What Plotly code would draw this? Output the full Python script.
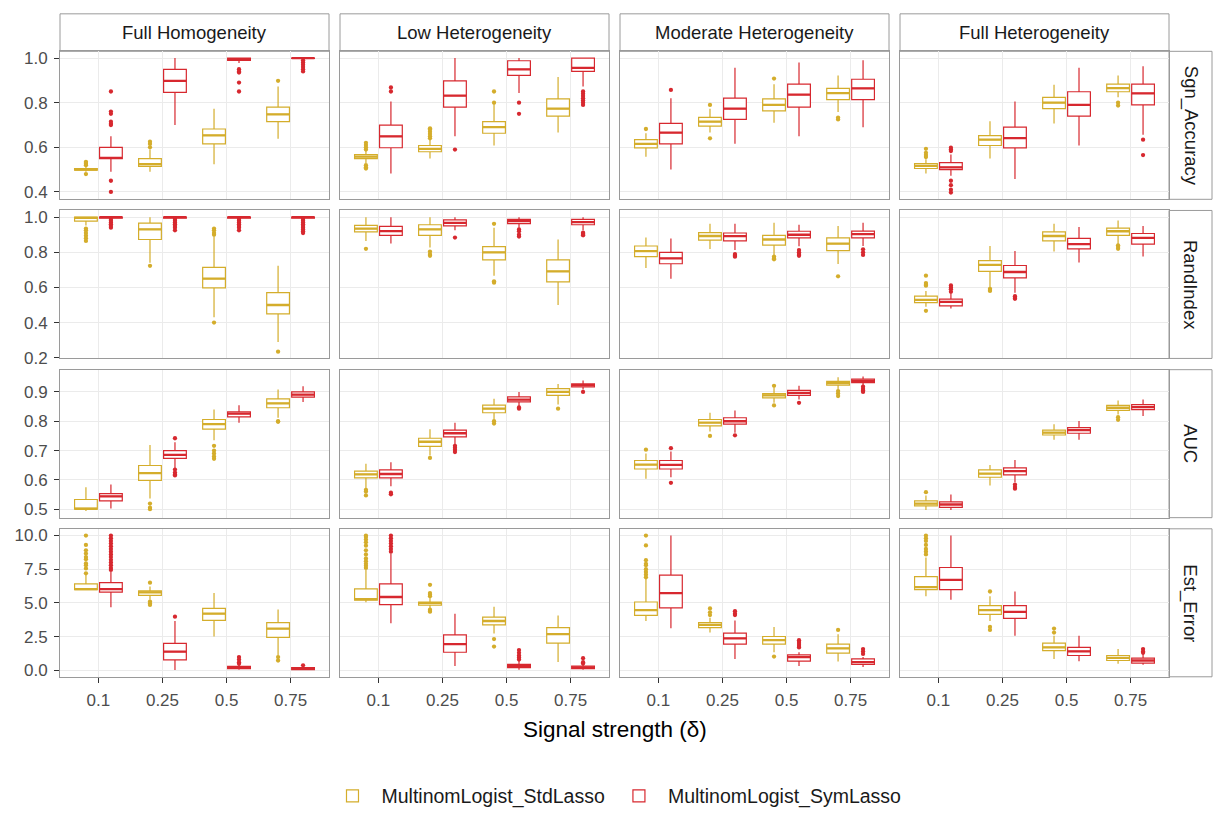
import plotly.graph_objects as go

# ---------------- data ----------------
deltas = ["0.1", "0.25", "0.5", "0.75"]
settings = ["Full Homogeneity", "Low Heterogeneity", "Moderate Heterogeneity", "Full Heterogeneity"]
metrics = ["Sgn_Accuracy", "RandIndex", "AUC", "Est_Error"]
methods = ["MultinomLogist_StdLasso", "MultinomLogist_SymLasso"]

# each array: rows = settings (4), columns = deltas (4)
# ---- Sgn_Accuracy ----
sgn_std_lo = [[0.49, 0.49, 0.524, 0.638], [0.53, 0.55, 0.608, 0.666], [0.558, 0.666, 0.71, 0.758], [0.483, 0.55, 0.707, 0.824]]
sgn_std_q1 = [[0.497, 0.514, 0.615, 0.715], [0.549, 0.58, 0.663, 0.74], [0.597, 0.695, 0.763, 0.814], [0.505, 0.608, 0.773, 0.849]]
sgn_std_med = [[0.50, 0.524, 0.653, 0.748], [0.558, 0.593, 0.69, 0.773], [0.615, 0.715, 0.79, 0.843], [0.517, 0.634, 0.80, 0.865]]
sgn_std_q3 = [[0.505, 0.549, 0.682, 0.78], [0.567, 0.608, 0.715, 0.817], [0.634, 0.734, 0.817, 0.864], [0.527, 0.652, 0.824, 0.883]]
sgn_std_hi = [[0.515, 0.59, 0.773, 0.873], [0.585, 0.634, 0.795, 0.915], [0.663, 0.773, 0.883, 0.922], [0.546, 0.717, 0.88, 0.922]]
sgn_std_out = [
    [[0.52, 0.525, 0.53, 0.535, 0.48], [0.60, 0.615, 0.625], [], [0.898]],
    [[0.59, 0.60, 0.61, 0.62, 0.52, 0.51, 0.505], [0.64, 0.65, 0.66, 0.67, 0.68, 0.685], [0.80, 0.85], []],
    [[0.682], [0.79, 0.64], [0.908], [0.733, 0.725]],
    [[0.556, 0.565, 0.575, 0.593], [], [], [0.80, 0.787]],
]
sgn_sym_lo = [[0.49, 0.70, 0.978, 0.995], [0.483, 0.649, 0.843, 0.873], [0.50, 0.616, 0.649, 0.69], [0.473, 0.458, 0.608, 0.656]]
sgn_sym_q1 = [[0.549, 0.846, 0.99, 0.998], [0.598, 0.78, 0.922, 0.94], [0.615, 0.725, 0.78, 0.814], [0.50, 0.597, 0.74, 0.79]]
sgn_sym_med = [[0.553, 0.898, 0.995, 1.0], [0.649, 0.832, 0.949, 0.956], [0.666, 0.773, 0.836, 0.864], [0.51, 0.641, 0.79, 0.842]]
sgn_sym_q3 = [[0.60, 0.949, 1.0, 1.0], [0.699, 0.898, 0.988, 1.0], [0.707, 0.82, 0.883, 0.905], [0.531, 0.69, 0.849, 0.883]]
sgn_sym_hi = [[0.649, 1.0, 1.0, 1.0], [0.805, 1.0, 1.0, 1.0], [0.82, 0.956, 0.98, 0.99], [0.568, 0.805, 0.956, 0.963]]
sgn_sym_out = [
    [[0.85, 0.76, 0.75, 0.715, 0.705, 0.70, 0.45, 0.40], [], [0.95, 0.94, 0.935, 0.89, 0.85], [0.99, 0.98, 0.97, 0.96, 0.95, 0.94]],
    [[0.85, 0.868], [0.59], [0.80, 0.75], [0.85, 0.84, 0.83, 0.82, 0.81, 0.80, 0.79]],
    [[0.857], [], [], []],
    [[0.583, 0.59, 0.598, 0.45, 0.43, 0.41, 0.397], [], [], [0.634, 0.565]],
]

# ---- RandIndex ----
rand_std_lo = [[0.953, 0.74, 0.43, 0.29], [0.865, 0.828, 0.667, 0.50], [0.71, 0.819, 0.785, 0.733], [0.49, 0.598, 0.804, 0.847]]
rand_std_q1 = [[0.978, 0.873, 0.598, 0.449], [0.916, 0.897, 0.757, 0.632], [0.776, 0.869, 0.841, 0.81], [0.514, 0.692, 0.865, 0.897]]
rand_std_med = [[0.996, 0.931, 0.65, 0.50], [0.935, 0.931, 0.80, 0.692], [0.807, 0.893, 0.873, 0.85], [0.529, 0.729, 0.893, 0.92]]
rand_std_q3 = [[1.0, 0.966, 0.714, 0.57], [0.953, 0.957, 0.832, 0.757], [0.836, 0.912, 0.897, 0.882], [0.551, 0.753, 0.916, 0.938]]
rand_std_hi = [[1.0, 1.0, 0.888, 0.723], [1.0, 1.0, 0.94, 0.873], [0.884, 0.963, 0.968, 0.95], [0.58, 0.836, 0.963, 0.981]]
rand_std_out = [
    [[0.935, 0.925, 0.91, 0.895, 0.88, 0.865], [0.723], [0.90, 0.91, 0.925, 0.935, 0.40], [0.234]],
    [[0.82], [0.804, 0.79, 0.78], [0.962, 0.635, 0.627], []],
    [[], [], [0.776, 0.765, 0.76], [0.663]],
    [[0.667, 0.625, 0.615, 0.61, 0.467], [0.592, 0.585, 0.58], [], [0.84, 0.83, 0.82]],
]
rand_sym_lo = [[0.975, 0.97, 0.97, 0.97], [0.85, 0.925, 0.94, 0.925], [0.649, 0.813, 0.835, 0.836], [0.48, 0.57, 0.742, 0.776]]
rand_sym_q1 = [[0.995, 0.995, 0.995, 0.995], [0.897, 0.95, 0.963, 0.957], [0.735, 0.865, 0.882, 0.882], [0.495, 0.654, 0.819, 0.847]]
rand_sym_med = [[1.0, 1.0, 1.0, 1.0], [0.921, 0.968, 0.978, 0.972], [0.766, 0.892, 0.90, 0.903], [0.518, 0.688, 0.847, 0.882]]
rand_sym_q3 = [[1.0, 1.0, 1.0, 1.0], [0.948, 0.985, 0.987, 0.987], [0.80, 0.91, 0.92, 0.921], [0.533, 0.725, 0.879, 0.907]]
rand_sym_hi = [[1.0, 1.0, 1.0, 1.0], [1.0, 1.0, 1.0, 1.0], [0.879, 0.963, 0.957, 0.968], [0.566, 0.807, 0.944, 0.95]]
rand_sym_out = [
    [[0.99, 0.98, 0.97, 0.96, 0.95, 0.94], [0.99, 0.98, 0.97, 0.96, 0.95, 0.94, 0.925],
     [0.99, 0.98, 0.97, 0.96, 0.95, 0.94, 0.925], [0.99, 0.98, 0.97, 0.96, 0.95, 0.94, 0.93, 0.92, 0.91]],
    [[], [0.884], [0.93, 0.92, 0.90, 0.89], [0.912, 0.905, 0.90, 0.897]],
    [[], [0.79, 0.78, 0.775], [0.813, 0.80, 0.79, 0.78], [0.817, 0.80, 0.785]],
    [[0.575, 0.59, 0.60, 0.611], [0.55, 0.54, 0.535], [], []],
]

# ---- AUC ----
auc_std_lo = [[0.494, 0.536, 0.735, 0.812], [0.57, 0.683, 0.806, 0.857], [0.604, 0.765, 0.863, 0.908], [0.497, 0.581, 0.737, 0.823]]
auc_std_q1 = [[0.50, 0.598, 0.773, 0.846], [0.607, 0.714, 0.829, 0.888], [0.637, 0.784, 0.88, 0.923], [0.511, 0.609, 0.753, 0.837]]
auc_std_med = [[0.501, 0.623, 0.79, 0.861], [0.619, 0.73, 0.843, 0.90], [0.652, 0.795, 0.888, 0.93], [0.519, 0.621, 0.761, 0.846]]
auc_std_q3 = [[0.533, 0.649, 0.806, 0.876], [0.63, 0.742, 0.855, 0.911], [0.666, 0.806, 0.894, 0.936], [0.528, 0.634, 0.77, 0.854]]
auc_std_hi = [[0.575, 0.719, 0.84, 0.908], [0.655, 0.773, 0.877, 0.927], [0.69, 0.829, 0.914, 0.95], [0.547, 0.651, 0.79, 0.871]]
auc_std_out = [
    [[], [0.519, 0.505, 0.50], [0.716, 0.70, 0.69, 0.68, 0.672], [0.80, 0.798]],
    [[0.566, 0.56, 0.547], [0.675], [0.80, 0.792], [0.843]],
    [[0.703], [0.75], [0.921, 0.854], [0.903, 0.895, 0.886]],
    [[0.558], [], [], [0.814, 0.805]],
]
auc_sym_lo = [[0.502, 0.637, 0.795, 0.866], [0.578, 0.722, 0.851, 0.908], [0.609, 0.761, 0.874, 0.923], [0.497, 0.592, 0.737, 0.818]]
auc_sym_q1 = [[0.528, 0.673, 0.815, 0.882], [0.607, 0.747, 0.866, 0.917], [0.637, 0.79, 0.888, 0.932], [0.506, 0.617, 0.759, 0.84]]
auc_sym_med = [[0.544, 0.685, 0.826, 0.891], [0.62, 0.759, 0.874, 0.923], [0.651, 0.80, 0.897, 0.938], [0.516, 0.63, 0.77, 0.848]]
auc_sym_q3 = [[0.553, 0.70, 0.832, 0.90], [0.634, 0.77, 0.883, 0.928], [0.666, 0.812, 0.905, 0.944], [0.525, 0.641, 0.778, 0.857]]
auc_sym_hi = [[0.584, 0.728, 0.855, 0.919], [0.66, 0.795, 0.90, 0.939], [0.697, 0.837, 0.921, 0.953], [0.55, 0.668, 0.801, 0.874]]
auc_sym_out = [
    [[], [0.742, 0.635, 0.625, 0.618, 0.615], [], []],
    [[0.556, 0.551], [0.716, 0.71, 0.703, 0.695], [0.847, 0.843], [0.90]],
    [[0.708, 0.59], [0.752], [0.863], [0.918, 0.91, 0.905, 0.90]],
    [[], [0.584, 0.576, 0.57], [], []],
]

# ---- Est_Error ----
err_std_lo = [[5.95, 5.24, 2.51, 1.1], [5.05, 4.59, 2.73, 0.61], [3.66, 2.8, 1.34, 0.66], [5.49, 3.66, 0.85, 0.49]]
err_std_q1 = [[5.98, 5.56, 3.71, 2.44], [5.2, 4.83, 3.37, 2.02], [4.07, 3.17, 1.95, 1.27], [5.98, 4.15, 1.46, 0.73]]
err_std_med = [[6.02, 5.78, 4.2, 3.1], [5.29, 4.98, 3.66, 2.68], [4.46, 3.37, 2.24, 1.63], [6.17, 4.46, 1.71, 0.93]]
err_std_q3 = [[6.41, 5.9, 4.59, 3.54], [6.05, 5.07, 3.95, 3.17], [5.07, 3.54, 2.51, 1.95], [6.95, 4.8, 2.02, 1.1]]
err_std_hi = [[7.07, 6.22, 5.73, 4.51], [7.44, 5.49, 4.71, 4.07], [6.78, 3.9, 3.22, 2.68], [8.37, 5.49, 2.56, 1.59]]
err_std_out = [
    [[10.0, 9.3, 8.9, 8.66, 8.4, 8.24, 7.93, 7.8, 7.56, 7.2], [6.5, 5.1, 4.95, 4.85], [], [0.98, 0.73]],
    [[10.0, 9.9, 9.7, 9.5, 9.25, 8.9, 8.6, 8.3, 8.1, 7.9, 7.75, 7.6], [6.34, 5.73, 5.6, 5.5, 4.5, 4.4, 4.35], [2.32, 1.76], []],
    [[10.0, 9.27, 8.17, 7.9, 7.8, 7.5, 7.3, 7.1, 6.9], [4.59, 4.3, 4.1], [1.02], [3.0]],
    [[10.0, 9.8, 9.6, 9.3, 9.0, 8.8, 8.6], [5.85, 3.22, 3.0], [3.1, 2.8], []],
]
err_sym_lo = [[4.68, 0.02, 0.05, 0.03], [3.49, 0.32, 0.05, 0.05], [3.12, 0.85, 0.32, 0.24], [5.24, 2.56, 0.68, 0.41]]
err_sym_q1 = [[5.8, 0.78, 0.12, 0.05], [4.88, 1.34, 0.2, 0.12], [4.63, 1.95, 0.68, 0.44], [5.98, 3.85, 1.1, 0.54]]
err_sym_med = [[6.02, 1.39, 0.2, 0.12], [5.44, 1.95, 0.32, 0.22], [5.73, 2.37, 0.98, 0.61], [6.71, 4.34, 1.41, 0.73]]
err_sym_q3 = [[6.51, 2.0, 0.3, 0.2], [6.41, 2.63, 0.44, 0.32], [7.07, 2.76, 1.15, 0.85], [7.63, 4.8, 1.71, 0.9]]
err_sym_hi = [[7.3, 3.66, 0.42, 0.32], [8.66, 4.2, 0.73, 0.44], [10.0, 3.7, 1.34, 0.98], [10.0, 5.85, 2.56, 1.22]]
err_sym_out = [
    [[10.0, 9.8, 9.6, 9.4, 9.2, 9.0, 8.8, 8.6, 8.4, 8.2, 8.0, 7.8, 7.6, 7.45], [3.98], [0.98, 0.8, 0.6, 0.48], [0.37]],
    [[10.0, 9.8, 9.6, 9.4, 9.2, 9.0, 8.8], [], [1.5, 1.3, 1.1, 0.95, 0.8], [0.9, 0.6, 0.5]],
    [[], [4.39, 4.2, 4.1], [2.24, 2.1, 1.95, 1.8, 1.7], [1.58, 1.4, 1.22]],
    [[], [], [], [1.58, 1.4, 1.3]],
]

y_tickvals = {
    "Sgn_Accuracy": [0.4, 0.6, 0.8, 1.0],
    "RandIndex": [0.2, 0.4, 0.6, 0.8, 1.0],
    "AUC": [0.5, 0.6, 0.7, 0.8, 0.9],
    "Est_Error": [0.0, 2.5, 5.0, 7.5, 10.0],
}
y_ticktext = {
    "Sgn_Accuracy": ["0.4", "0.6", "0.8", "1.0"],
    "RandIndex": ["0.2", "0.4", "0.6", "0.8", "1.0"],
    "AUC": ["0.5", "0.6", "0.7", "0.8", "0.9"],
    "Est_Error": ["0.0", "2.5", "5.0", "7.5", "10.0"],
}

# ---------------- assemble ----------------
stats = {
    ("Sgn_Accuracy", 0): (sgn_std_lo, sgn_std_q1, sgn_std_med, sgn_std_q3, sgn_std_hi, sgn_std_out),
    ("Sgn_Accuracy", 1): (sgn_sym_lo, sgn_sym_q1, sgn_sym_med, sgn_sym_q3, sgn_sym_hi, sgn_sym_out),
    ("RandIndex", 0): (rand_std_lo, rand_std_q1, rand_std_med, rand_std_q3, rand_std_hi, rand_std_out),
    ("RandIndex", 1): (rand_sym_lo, rand_sym_q1, rand_sym_med, rand_sym_q3, rand_sym_hi, rand_sym_out),
    ("AUC", 0): (auc_std_lo, auc_std_q1, auc_std_med, auc_std_q3, auc_std_hi, auc_std_out),
    ("AUC", 1): (auc_sym_lo, auc_sym_q1, auc_sym_med, auc_sym_q3, auc_sym_hi, auc_sym_out),
    ("Est_Error", 0): (err_std_lo, err_std_q1, err_std_med, err_std_q3, err_std_hi, err_std_out),
    ("Est_Error", 1): (err_sym_lo, err_sym_q1, err_sym_med, err_sym_q3, err_sym_hi, err_sym_out),
}

COLORS = ["#D4AD2B", "#D7282F"]
W, H = 1213, 817
FONT = "Liberation Sans, Arial, sans-serif"
col_px = [(60, 329), (340, 609), (620, 889), (900, 1169)]
row_px = [(50, 200), (211.3, 361.3), (372.7, 522.7), (534, 684)]
STRIP_TOP = (12, 50)
STRIP_RIGHT = (1169, 1212)
DODGE = 0.195
BOX_W = 0.355
BORDER = "#9A9A9A"
GRID = "#EBEBEB"

fig = go.Figure()
layout = dict(
    width=W, height=H, autosize=False,
    margin=dict(l=0, r=0, t=0, b=0),
    paper_bgcolor="white", plot_bgcolor="white",
    font=dict(family=FONT, color="#1A1A1A"),
    boxmode="overlay",
    showlegend=True,
    legend=dict(orientation="h", x=0.507, xanchor="center", y=1 - 805 / H, yanchor="middle",
                font=dict(size=19.5, color="#1A1A1A", family=FONT), itemwidth=48,
                bgcolor="rgba(0,0,0,0)"),
)
shapes, annotations = [], []

for r, metric in enumerate(metrics):
    # row-wide y range with 5% expansion (shared scale within a row)
    vals = []
    for m in range(2):
        lo, q1, med, q3, hi, out = stats[(metric, m)]
        for c in range(4):
            vals += lo[c] + hi[c]
            for o in out[c]:
                vals += o
    vmin, vmax = min(vals), max(vals)
    span = vmax - vmin
    yrange = [vmin - 0.05 * span, vmax + 0.05 * span]
    y0p, y1p = row_px[r]
    for c, setting in enumerate(settings):
        k = r * 4 + c + 1
        xs = "x" if k == 1 else f"x{k}"
        ys = "y" if k == 1 else f"y{k}"
        x0p, x1p = col_px[c]
        for m, method in enumerate(methods):
            lo, q1, med, q3, hi, out = stats[(metric, m)]
            col = COLORS[m]
            pos = [i + 1 + (2 * m - 1) * DODGE for i in range(len(deltas))]
            fig.add_trace(go.Box(
                x=pos, q1=q1[c], median=med[c], q3=q3[c],
                lowerfence=lo[c], upperfence=hi[c],
                width=BOX_W, orientation="v", boxpoints=False,
                fillcolor="white", line=dict(color=col, width=1.2), whiskerwidth=0,
                name=method, legendgroup=method, showlegend=(k == 1),
                xaxis=xs, yaxis=ys, hoverinfo="skip",
            ))
            mx, my = [], []
            for p, v in zip(pos, med[c]):
                mx += [p - BOX_W / 2, p + BOX_W / 2, None]
                my += [v, v, None]
            fig.add_trace(go.Scatter(x=mx, y=my, mode="lines", line=dict(color=col, width=2.3),
                                     showlegend=False, xaxis=xs, yaxis=ys, hoverinfo="skip"))
            ox, oy = [], []
            for p, vlist in zip(pos, out[c]):
                ox += [p] * len(vlist)
                oy += vlist
            fig.add_trace(go.Scatter(x=ox, y=oy, mode="markers",
                                     marker=dict(color=col, size=4.3, line=dict(width=0)),
                                     showlegend=False, xaxis=xs, yaxis=ys, hoverinfo="skip"))
        xkey = "xaxis" if k == 1 else f"xaxis{k}"
        ykey = "yaxis" if k == 1 else f"yaxis{k}"
        layout[xkey] = dict(
            domain=[x0p / W, x1p / W], anchor=ys, range=[0.4, 4.6],
            tickmode="array", tickvals=[1, 2, 3, 4], ticktext=deltas,
            showticklabels=(r == 3), ticks="outside" if r == 3 else "",
            ticklen=5, tickwidth=1, tickcolor="#333333", ticklabelstandoff=3,
            tickfont=dict(size=17, color="#4D4D4D", family=FONT),
            showgrid=True, gridcolor=GRID, gridwidth=1,
            showline=True, mirror=True, linecolor=BORDER, linewidth=1,
            zeroline=False, fixedrange=True,
        )
        layout[ykey] = dict(
            domain=[1 - y1p / H, 1 - y0p / H], anchor=xs, range=yrange,
            tickmode="array", tickvals=y_tickvals[metric], ticktext=y_ticktext[metric],
            showticklabels=(c == 0), ticks="outside" if c == 0 else "",
            ticklen=5, tickwidth=1, tickcolor="#333333", ticklabelstandoff=3,
            tickfont=dict(size=17, color="#4D4D4D", family=FONT),
            showgrid=True, gridcolor=GRID, gridwidth=1,
            showline=True, mirror=True, linecolor=BORDER, linewidth=1,
            zeroline=False, fixedrange=True,
        )

# top strips
for c, setting in enumerate(settings):
    x0p, x1p = col_px[c]
    shapes.append(dict(type="rect", xref="paper", yref="paper",
                       x0=x0p / W, x1=x1p / W, y0=1 - STRIP_TOP[1] / H, y1=1 - STRIP_TOP[0] / H,
                       fillcolor="white", line=dict(color=BORDER, width=1), layer="below"))
    annotations.append(dict(text=setting, xref="paper", yref="paper",
                            x=(x0p + x1p) / 2 / W, y=1 - (STRIP_TOP[0] + STRIP_TOP[1]) / 2 / H,
                            xanchor="center", yanchor="middle", showarrow=False,
                            font=dict(size=18.5, color="#1A1A1A", family=FONT)))
# right strips
for r, metric in enumerate(metrics):
    y0p, y1p = row_px[r]
    shapes.append(dict(type="rect", xref="paper", yref="paper",
                       x0=STRIP_RIGHT[0] / W, x1=STRIP_RIGHT[1] / W, y0=1 - y1p / H, y1=1 - y0p / H,
                       fillcolor="white", line=dict(color=BORDER, width=1), layer="below"))
    annotations.append(dict(text=metric, xref="paper", yref="paper",
                            x=(STRIP_RIGHT[0] + STRIP_RIGHT[1]) / 2 / W, y=1 - (y0p + y1p) / 2 / H,
                            xanchor="center", yanchor="middle", showarrow=False, textangle=90,
                            font=dict(size=18.5, color="#1A1A1A", family=FONT)))
# x-axis title
annotations.append(dict(text="Signal strength (δ)", xref="paper", yref="paper",
                        x=(col_px[0][0] + col_px[3][1]) / 2 / W, y=1 - 737 / H,
                        xanchor="center", yanchor="middle", showarrow=False,
                        font=dict(size=22.5, color="#000000", family=FONT)))

layout["shapes"] = shapes
layout["annotations"] = annotations
fig.update_layout(**layout)
fig.write_html("out.html")
